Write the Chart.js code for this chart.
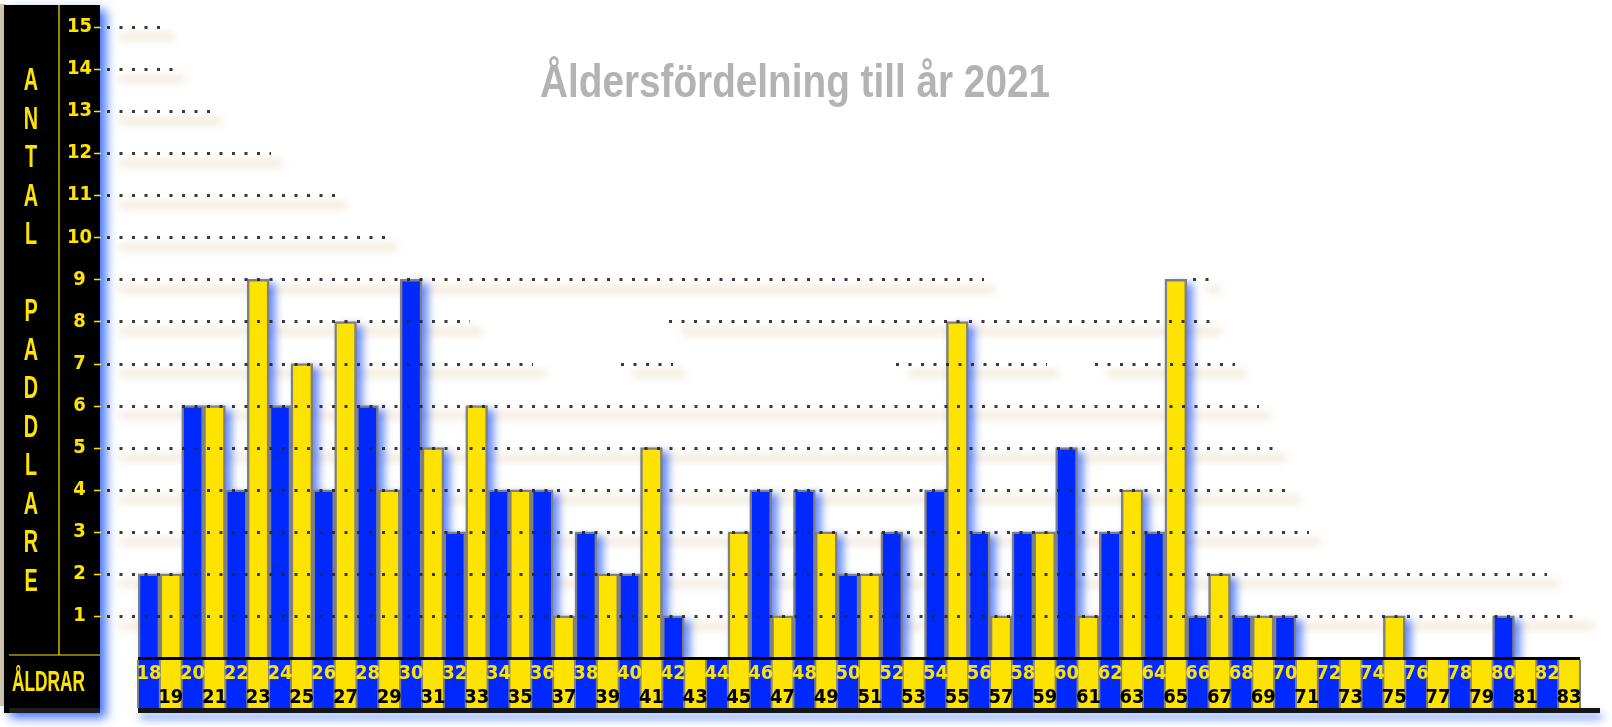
<!DOCTYPE html>
<html>
<head>
<meta charset="utf-8">
<title>Åldersfördelning till år 2021</title>
<script src="https://cdn.jsdelivr.net/npm/chart.js@4.4.0/dist/chart.umd.min.js"></script>
<style>
  body { margin: 0; background: #fff; }
  canvas { display: block; }
</style>
</head>
<body>
<canvas id="chart" width="1612" height="727"></canvas>
<script>
const chartTitle = 'Åldersfördelning till år 2021';
const yTitle = 'ANTAL PADDLARE';
const xTitle = 'ÅLDRAR';

const ages = [18, 19, 20, 21, 22, 23, 24, 25, 26, 27, 28, 29, 30, 31, 32, 33, 34, 35, 36, 37, 38, 39,
  40, 41, 42, 43, 44, 45, 46, 47, 48, 49, 50, 51, 52, 53, 54, 55, 56, 57, 58, 59, 60, 61,
  62, 63, 64, 65, 66, 67, 68, 69, 70, 71, 72, 73, 74, 75, 76, 77, 78, 79, 80, 81, 82, 83];
const paddlare = [2, 2, 6, 6, 4, 9, 6, 7, 4, 8, 6, 4, 9, 5, 3, 6, 4, 4, 4, 1, 3, 2,
  2, 5, 1, 0, 0, 3, 4, 1, 4, 3, 2, 2, 3, 0, 4, 8, 3, 1, 3, 3, 5, 1,
  3, 4, 3, 9, 1, 2, 1, 1, 1, 0, 0, 0, 0, 1, 0, 0, 0, 0, 1, 0, 0, 0];
const yTicks = [1, 2, 3, 4, 5, 6, 7, 8, 9, 10, 11, 12, 13, 14, 15];

// where the dotted lines run, in age units (they are uneven in the original)
const gridSpans = {
  15: [[16.1, 18.6]], 14: [[16.1, 19.1]], 13: [[16.1, 20.8]], 12: [[16.1, 23.6]],
  11: [[16.1, 26.5]], 10: [[16.1, 28.8]],
  9: [[16.1, 56.2], [65.8, 66.5]],
  8: [[16.1, 32.7], [41.8, 66.6]],
  7: [[16.1, 35.6], [39.6, 42], [52.2, 59.1], [61.3, 67.7]],
  6: [[16.1, 68.8]], 5: [[16.1, 69.5]], 4: [[16.1, 70.2]], 3: [[16.1, 71.1]],
  2: [[16.1, 82]], 1: [[16.1, 83.6]]
};

const yellow = '#ffe300';
const blue = '#0029ff';
const grey = '#808080';
const narrow = '"Liberation Sans Narrow", "DejaVu Sans Condensed", "Liberation Sans", sans-serif';
const sans = '"Liberation Sans", Arial, sans-serif';

function barColor(i) {
  return i % 2 === 0 ? blue : yellow;
}

function squeezeText(ctx, text, x, y, sx) {
  ctx.save();
  ctx.translate(x, y);
  ctx.scale(sx, 1);
  ctx.fillText(text, 0, 0);
  ctx.restore();
}

function ageX(xs, age) {
  return xs.getPixelForValue(age - ages[0]);
}

const decor = {
  id: 'decor',
  beforeDraw(chart) {
    const ctx = chart.ctx, xs = chart.scales.x, ys = chart.scales.y, area = chart.chartArea;
    ctx.save();
    ctx.fillStyle = '#fff';
    ctx.fillRect(0, 0, chart.width, chart.height);

    // left black panel
    ctx.fillStyle = '#d6c9a8';
    ctx.fillRect(0, 4, 6, 702);
    ctx.shadowColor = 'rgba(0,70,255,0.75)';
    ctx.shadowBlur = 10;
    ctx.shadowOffsetX = 6;
    ctx.shadowOffsetY = 5;
    ctx.fillStyle = '#000';
    ctx.fillRect(4, 5, 96, 708);
    ctx.shadowColor = 'transparent';
    ctx.fillStyle = '#1e1e1e';
    ctx.fillRect(9, 708, 91, 5);

    ctx.strokeStyle = yellow;
    ctx.lineWidth = 1.2;
    ctx.beginPath();
    ctx.moveTo(59, 5); ctx.lineTo(59, 655);
    ctx.moveTo(9, 655); ctx.lineTo(100, 655);
    ctx.stroke();

    ctx.fillStyle = yellow;
    ctx.textAlign = 'center';
    ctx.textBaseline = 'alphabetic';
    ctx.font = 'bold 32px ' + sans;
    for (var i = 0; i < yTitle.length; i++) {
      squeezeText(ctx, yTitle[i], 31, 90 + i * 38.5, 0.62);
    }
    ctx.textAlign = 'left';
    ctx.font = 'bold 29px ' + sans;
    squeezeText(ctx, xTitle, 12, 691, 73 / ctx.measureText(xTitle).width);

    // small yellow tick marks
    ctx.lineWidth = 1.5;
    ctx.beginPath();
    yTicks.forEach(function (v) {
      const y = Math.round(ys.getPixelForValue(v)) + 0.5;
      ctx.moveTo(94, y); ctx.lineTo(101, y);
    });
    ctx.stroke();

    // age strip under the bars
    const half = (xs.getPixelForValue(1) - xs.getPixelForValue(0)) / 2;
    const left = xs.getPixelForValue(0) - half;
    const right = xs.getPixelForValue(ages.length - 1) + half;
    ctx.shadowColor = 'rgba(0,70,255,0.6)';
    ctx.shadowBlur = 8;
    ctx.shadowOffsetY = 6;
    ctx.shadowOffsetX = 2;
    ctx.fillStyle = '#151515';
    ctx.fillRect(left, 708, right + 20 - left, 5);
    ctx.shadowColor = 'transparent';
    for (var j = 0; j < ages.length; j++) {
      const cx = xs.getPixelForValue(j);
      ctx.fillStyle = barColor(j);
      ctx.fillRect(cx - half, area.bottom + 2, half * 2, 708 - area.bottom - 2);
    }
    ctx.strokeStyle = grey;
    ctx.lineWidth = 2;
    ctx.beginPath();
    for (var k = 0; k <= ages.length; k++) {
      const ex = left + k * half * 2;
      ctx.moveTo(ex, area.bottom + 2); ctx.lineTo(ex, 708);
    }
    ctx.stroke();
    ctx.restore();
  },
  beforeDatasetsDraw(chart) {
    const ctx = chart.ctx, xs = chart.scales.x, ys = chart.scales.y, area = chart.chartArea;
    ctx.save();
    ctx.beginPath();
    ctx.rect(100, 0, chart.width, area.bottom);
    ctx.clip();
    // soft beige shade under each dotted line
    ctx.filter = 'blur(4px)';
    ctx.strokeStyle = 'rgba(205,180,125,0.3)';
    ctx.lineWidth = 7;
    yTicks.forEach(function (v) {
      const y = ys.getPixelForValue(v) + 10;
      gridSpans[v].forEach(function (s) {
        ctx.beginPath();
        ctx.moveTo(ageX(xs, s[0]) + 12, y);
        ctx.lineTo(ageX(xs, s[1]) + 12, y);
        ctx.stroke();
      });
    });
    // blue glow of the bars
    ctx.filter = 'blur(4px)';
    ctx.fillStyle = 'rgba(0,60,255,0.6)';
    chart.getDatasetMeta(0).data.forEach(function (bar) {
      const p = bar.getProps(['x', 'y', 'base', 'width'], true);
      if (p.base - p.y < 1) return;
      ctx.fillRect(p.x - p.width / 2 + 6, p.y + 4, p.width, p.base - p.y);
    });
    ctx.restore();
  },
  afterDatasetsDraw(chart) {
    const ctx = chart.ctx, xs = chart.scales.x, ys = chart.scales.y, area = chart.chartArea;
    ctx.save();
    ctx.strokeStyle = 'rgba(40,40,40,0.92)';
    ctx.lineWidth = 3;
    ctx.setLineDash([3, 9.5]);
    yTicks.forEach(function (v) {
      const y = Math.round(ys.getPixelForValue(v)) + 0.5;
      gridSpans[v].forEach(function (s) {
        ctx.beginPath();
        ctx.moveTo(Math.round(ageX(xs, s[0])), y);
        ctx.lineTo(Math.round(ageX(xs, s[1])), y);
        ctx.stroke();
      });
    });
    ctx.setLineDash([]);
    const half = (xs.getPixelForValue(1) - xs.getPixelForValue(0)) / 2;
    ctx.fillStyle = '#000';
    ctx.fillRect(xs.getPixelForValue(0) - half, area.bottom - 1, xs.getPixelForValue(ages.length - 1) + half - xs.getPixelForValue(0) + half, 3);

    ctx.fillStyle = '#b3b3b3';
    ctx.font = 'bold 47px ' + sans;
    ctx.textAlign = 'center';
    ctx.textBaseline = 'alphabetic';
    squeezeText(ctx, chartTitle, 795, 96.5, 510 / ctx.measureText(chartTitle).width);
    ctx.restore();
  }
};

new Chart(document.getElementById('chart'), {
  type: 'bar',
  data: {
    labels: ages,
    datasets: [{
      data: paddlare,
      backgroundColor: ages.map(function (a, i) { return barColor(i); }),
      borderColor: grey,
      borderWidth: 2.5,
      borderSkipped: 'start',
      categoryPercentage: 1,
      barPercentage: 1
    }]
  },
  options: {
    responsive: false,
    animation: false,
    layout: { padding: { top: 27, right: 32, bottom: 0, left: 0 } },
    plugins: {
      legend: { display: false },
      tooltip: { enabled: false }
    },
    scales: {
      x: {
        border: { display: false },
        grid: { display: false, drawTicks: false },
        afterFit: function (scale) { scale.height = 69; },
        ticks: {
          autoSkip: false,
          maxRotation: 0,
          padding: 4,
          font: { family: narrow, size: 20, weight: 'bold', lineHeight: 1.2 },
          color: function (c) { return c.index % 2 === 0 ? yellow : '#000'; },
          callback: function (value, index) {
            const label = String(ages[index]);
            return index % 2 === 0 ? [label, ''] : ['', label];
          }
        }
      },
      y: {
        min: 0,
        max: 15,
        border: { display: false },
        grid: { display: false, drawTicks: false },
        afterFit: function (scale) {
          scale.width = 138;
          scale.paddingTop = 0;
          scale.paddingBottom = 0;
        },
        afterBuildTicks: function (scale) {
          scale.ticks = yTicks.map(function (v) { return { value: v }; });
        },
        ticks: {
          padding: 46,
          crossAlign: 'center',
          color: yellow,
          font: { family: narrow, size: 20, weight: 'bold' }
        }
      }
    }
  },
  plugins: [decor]
});
</script>
</body>
</html>
